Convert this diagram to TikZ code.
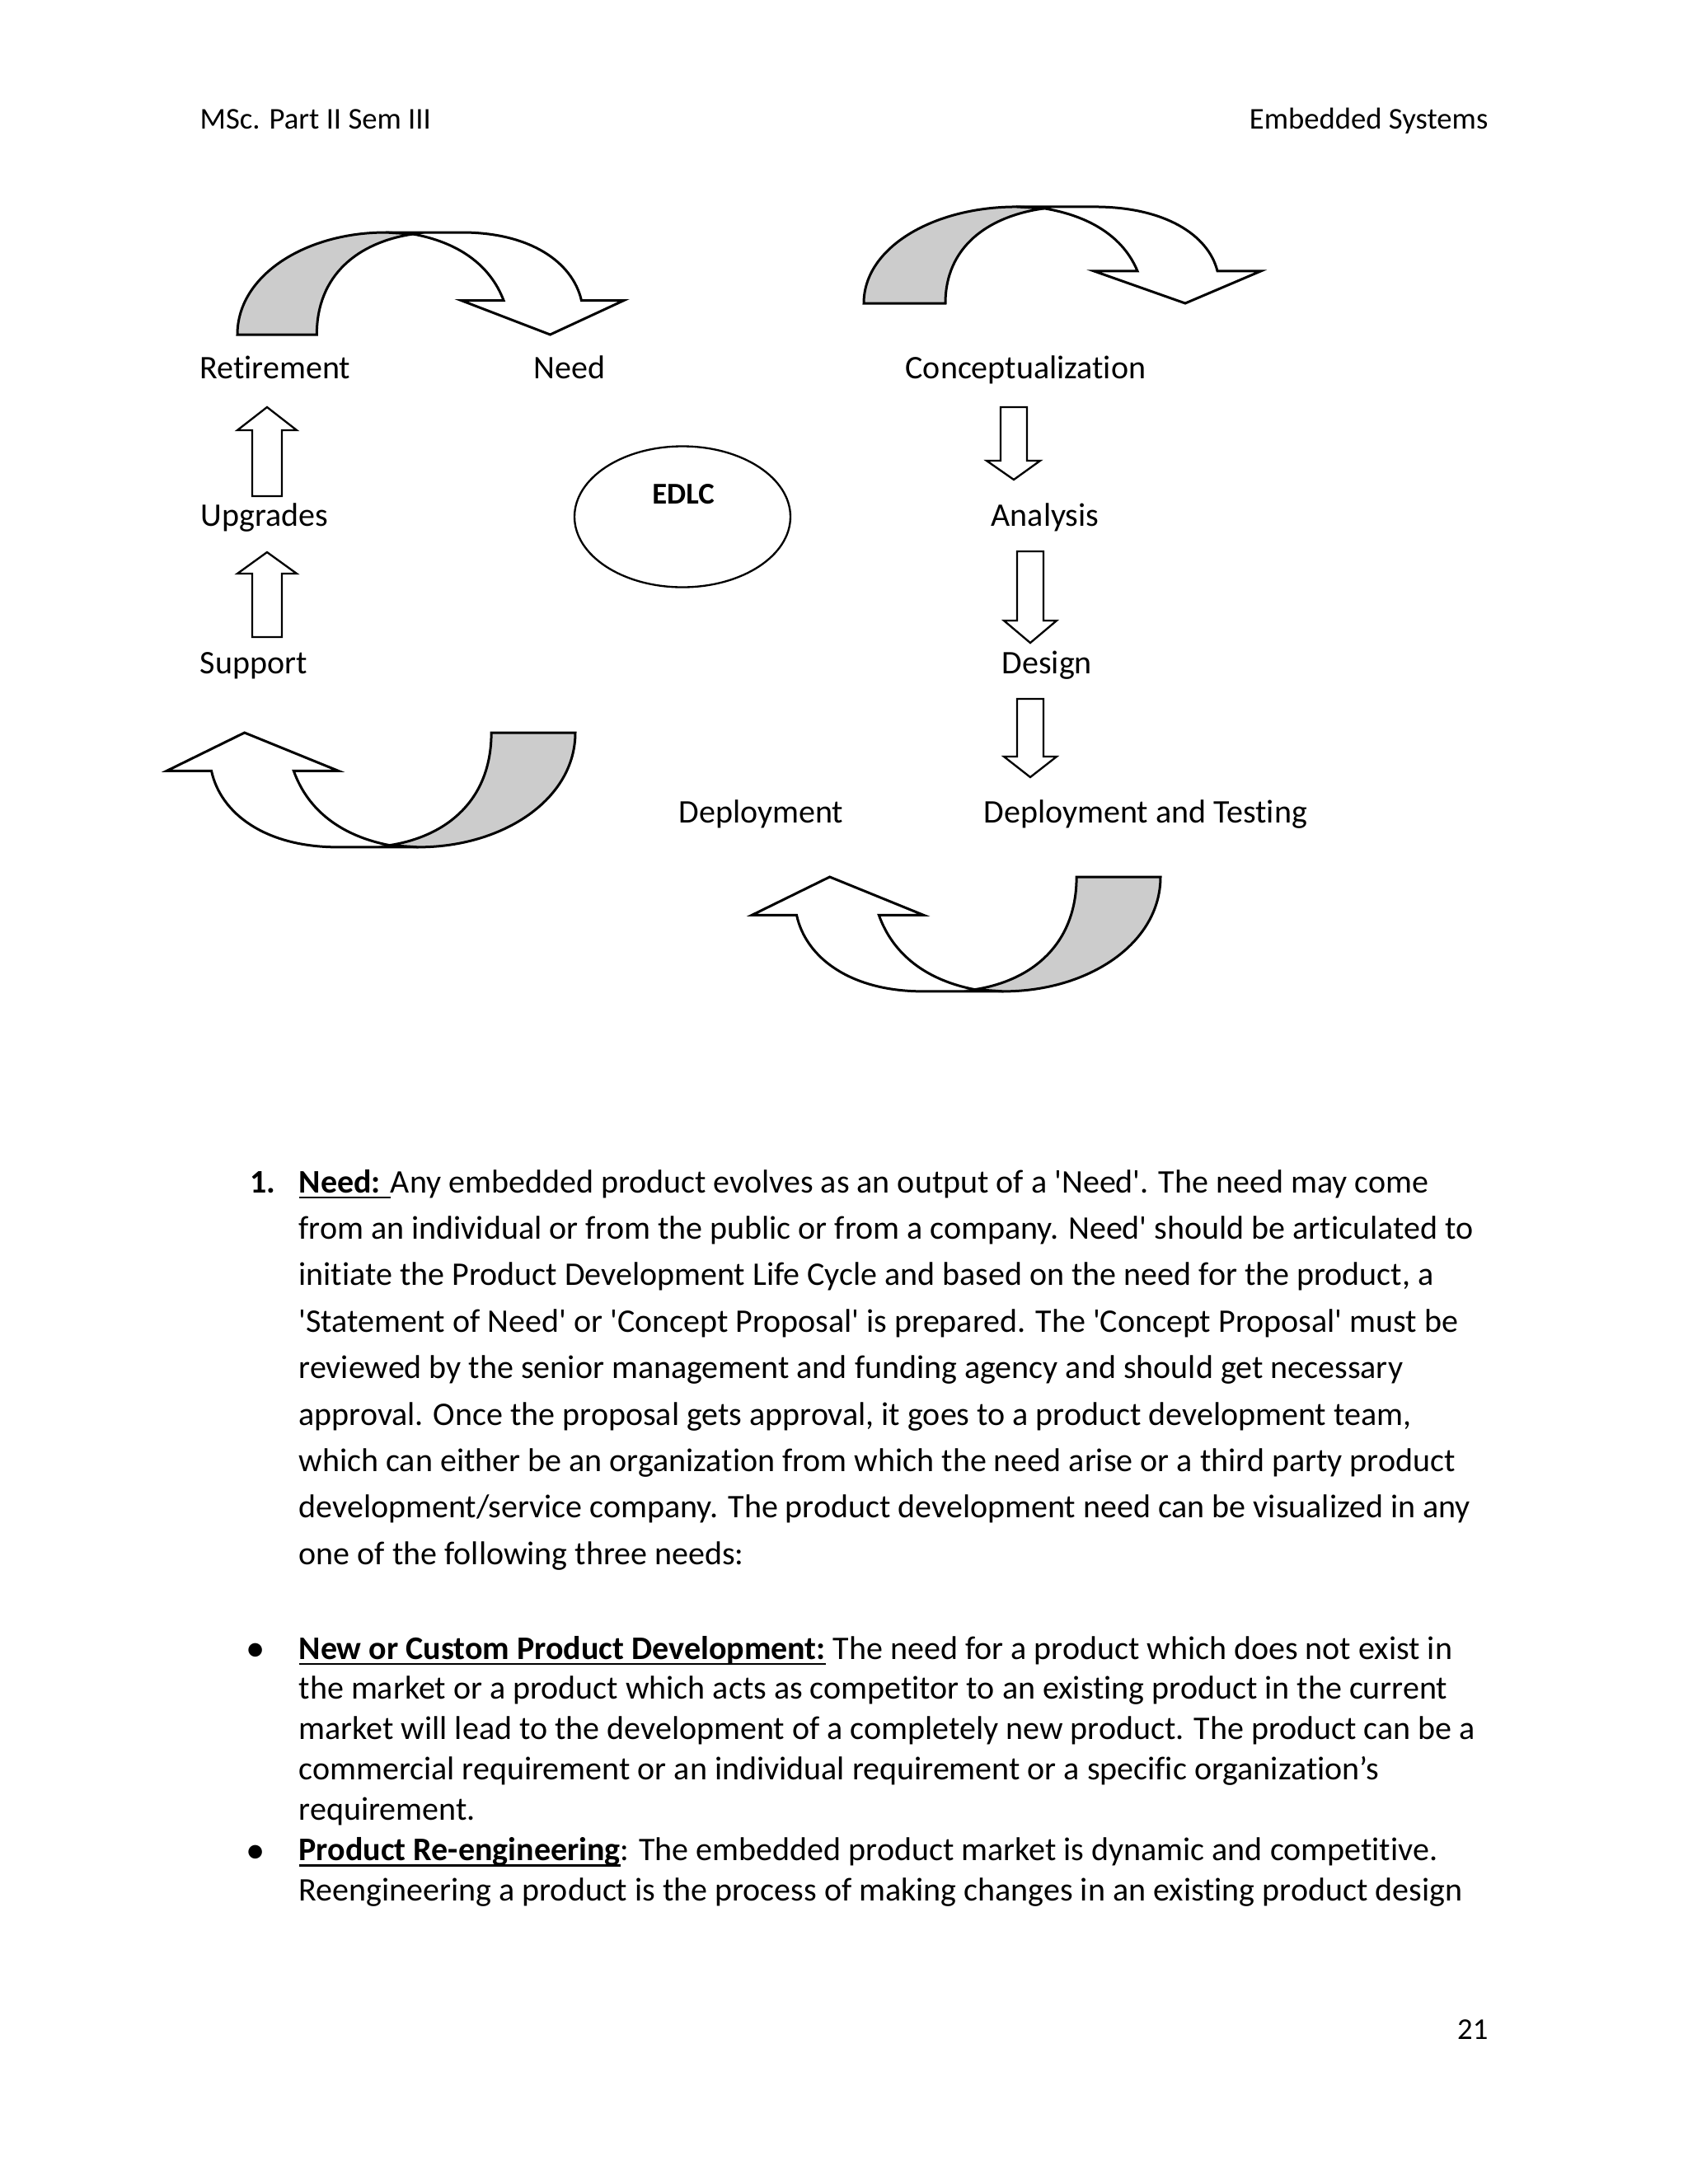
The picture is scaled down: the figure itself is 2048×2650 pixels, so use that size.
\documentclass[tikz,border=0pt]{standalone}
\usepackage{fontspec}
\setmainfont{Carlito}[Ligatures={TeXOff,NoCommon}]
\usetikzlibrary{shapes.geometric}
\newcommand\myul[1]{\sbox0{#1}\rlap{\rule[-2.2pt]{\wd0}{0.8pt}}\usebox0}
\newcommand\mycurvarrow{%
    \path[curvline, fill=white] (185,124) -- (280,124) .. controls (365,124) and (418,88) .. (429,41.5)
      -- (482,41.5) -- (390,0) -- (279,41.5) -- (332,41.5) .. controls (315,85) and (275,112) .. (219,122) -- cycle;
    \path[curvline, fill=black!20] (0,0) .. controls (0,72) and (85,124) .. (185,124) -- (219,122)
      .. controls (150,112) and (99,72) .. (99,0) -- cycle;}
\begin{document}
\begin{tikzpicture}[x=0.010543cm, y=-0.010543cm,
  lbl/.style={anchor=base west, inner sep=0, font=\fontsize{12}{14}\selectfont},
  hdr/.style={inner sep=0, font=\fontsize{11}{13}\selectfont},
  body/.style={anchor=base west, inner sep=0, font=\fontsize{12}{14}\selectfont},
  blockarrow/.style={draw, line width=0.7pt, fill=white, line join=miter},
  curvline/.style={draw, line width=0.9pt, line join=miter}
]
\fill[white] (0,0) rectangle (2048,2650);
\useasboundingbox (0,0) rectangle (2048,2650);

% header / footer
\node[hdr, anchor=base west] (hl) at (242,156) {MSc. Part II Sem III};
\node[hdr, anchor=base east] (hr) at (1806,156) {Embedded Systems};
\node[hdr, anchor=base east] (pg) at (1806,2474) {21};

% curved arrows
\begin{scope}[shift={(288,406)}, xscale=0.973, yscale=-1]
  \mycurvarrow
\end{scope}
\begin{scope}[shift={(1048,368)}, xscale=1.0, yscale=-0.944]
  \mycurvarrow
\end{scope}
\begin{scope}[shift={(698,889)}, xscale=-1.029, yscale=1.12]
  \mycurvarrow
\end{scope}
\begin{scope}[shift={(1408,1064)}, xscale=-1.029, yscale=1.12]
  \mycurvarrow
\end{scope}

% straight block arrows
\draw[blockarrow] (306,602) -- (306,522) -- (288,522) -- (324,494) -- (360,522) -- (342,522) -- (342,602) -- cycle;
\draw[blockarrow] (306,773) -- (306,696) -- (288,696) -- (324,670) -- (360,696) -- (342,696) -- (342,773) -- cycle;
\draw[blockarrow] (1214,494) -- (1246,494) -- (1246,559) -- (1262,559) -- (1230,582) -- (1197,559) -- (1214,559) -- cycle;
\draw[blockarrow] (1234,669) -- (1266,669) -- (1266,753) -- (1282,753) -- (1250,780) -- (1218,753) -- (1234,753) -- cycle;
\draw[blockarrow] (1234,848) -- (1266,848) -- (1266,918) -- (1282,918) -- (1250,943) -- (1218,918) -- (1234,918) -- cycle;

% EDLC
\node[draw, ellipse, line width=0.7pt, minimum width=2.762cm, minimum height=1.803cm, inner sep=0] (edlc) at (828,627) {};
\node[anchor=base, inner sep=0, font=\fontsize{11}{13}\selectfont\bfseries] (edlct) at (829,611) {EDLC};

% labels
\node[lbl] (ret) at (242,459) {Retirement};
\node[lbl] (need) at (647,459) {Need};
\node[lbl] (conc) at (1098,459) {Conceptualization};
\node[lbl] (upg) at (243,638) {Upgrades};
\node[lbl] (ana) at (1202,638) {Analysis};
\node[lbl] (sup) at (242,817) {Support};
\node[lbl] (des) at (1215,817) {Design};
\node[lbl] (dep) at (823,998) {Deployment};
\node[lbl] (dept) at (1193,998) {Deployment and Testing};

% paragraph 1
\node[body, font=\fontsize{12}{14}\selectfont\bfseries] (n1) at (303,1447) {1.};
\node[body] (p1) at (362,1447) {\myul{\textbf{Need:} }Any embedded product evolves as an output of a 'Need'. The need may come};
\node[body] (p2) at (362,1503.4) {from an individual or from the public or from a company. Need' should be articulated to};
\node[body] (p3) at (362,1559.8) {initiate the Product Development Life Cycle and based on the need for the product, a};
\node[body] (p4) at (362,1616.2) {'Statement of Need' or 'Concept Proposal' is prepared. The 'Concept Proposal' must be};
\node[body] (p5) at (362,1672.6) {reviewed by the senior management and funding agency and should get necessary};
\node[body] (p6) at (362,1729) {approval. Once the proposal gets approval, it goes to a product development team,};
\node[body] (p7) at (362,1785.4) {which can either be an organization from which the need arise or a third party product};
\node[body] (p8) at (362,1841.8) {development/service company. The product development need can be visualized in any};
\node[body] (p9) at (362,1898.2) {one of the following three needs:};

% bullets
\node[inner sep=0, font=\fontsize{14}{14}\selectfont] (b1) at (310,2005) {•};
\node[body] (q1) at (362,2013) {\myul{\textbf{New or Custom Product Development:}} The need for a product which does not exist in};
\node[body] (q2) at (362,2061.9) {the market or a product which acts as competitor to an existing product in the current};
\node[body] (q3) at (362,2110.8) {market will lead to the development of a completely new product. The product can be a};
\node[body] (q4) at (362,2159.7) {commercial requirement or an individual requirement or a specific organization’s};
\node[body] (q5) at (362,2208.6) {requirement.};
\node[inner sep=0, font=\fontsize{14}{14}\selectfont] (b2) at (310,2249.5) {•};
\node[body] (q6) at (362,2257.5) {\myul{\textbf{Product Re-engineering}}: The embedded product market is dynamic and competitive.};
\node[body] (q7) at (362,2306.4) {Reengineering a product is the process of making changes in an existing product design};
\end{tikzpicture}
\end{document}
